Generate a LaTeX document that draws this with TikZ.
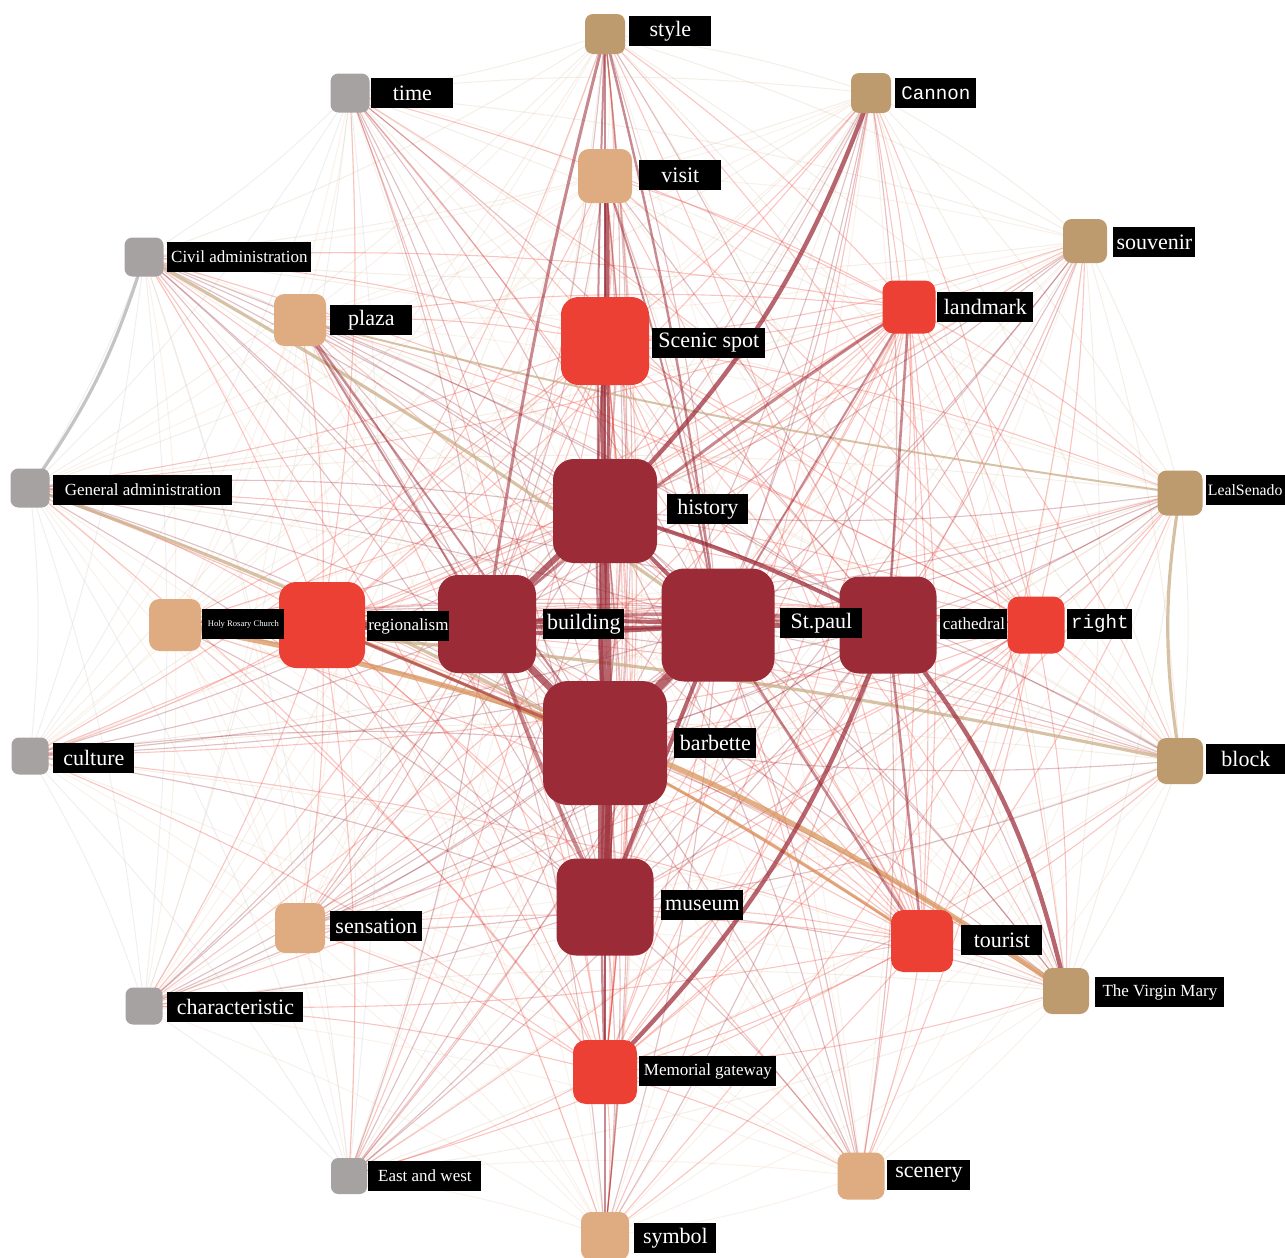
\documentclass[tikz,border=0pt]{standalone}
\usepackage{fontspec}
\setmainfont{Liberation Serif}
\newfontfamily\monof{Liberation Mono}
\definecolor{gry}{HTML}{A7A2A2}
\definecolor{tan}{HTML}{BE9B6E}
\definecolor{pch}{HTML}{DFAB80}
\definecolor{drk}{HTML}{9B2B37}
\definecolor{red}{HTML}{EC4034}
\colorlet{r0}{gry}
\colorlet{r1}{tan}
\colorlet{r2}{pch}
\colorlet{r3}{drk}
\colorlet{r4}{red}
\definecolor{tanline}{HTML}{C9AE88}
\definecolor{orgline}{HTML}{D9965E}
\definecolor{gryline}{HTML}{C4C4C4}
\pgfdeclarelayer{bg}
\pgfsetlayers{bg,main}
\begin{document}
\begin{tikzpicture}[x=0.5pt,y=-0.5pt,
  sq/.style 2 args={fill=#1, draw=none, inner sep=0pt, minimum size=#2*0.5pt, rounded corners=#2*0.1pt},
  lab/.style={fill=black, text=white, inner sep=0pt, anchor=west, minimum height=15pt},
  big/.style={font=\fontsize{11}{13}\selectfont},
  small/.style={font=\fontsize{8.5}{10}\selectfont},
  tiny/.style={font=\fontsize{4.3}{5}\selectfont},
  mono/.style={font=\monof\fontsize{9.6}{12}\selectfont},
  wl/.style={draw=drk, opacity=0.72, line width=#1},
  wm/.style={draw=drk, opacity=0.55, line width=#1},
  tl/.style={draw=tanline, opacity=0.75, line width=#1},
  ol/.style={draw=orgline, opacity=0.75, line width=#1},
]
\useasboundingbox (0,0) rectangle (1285,1258);
\clip (0,0) rectangle (1285,1258);
% nodes
\foreach \id/\x/\y/\c/\s in {
  sty/605/34/tan/40, tim/350/93/gry/39, can/871/93/tan/40, vis/605/176/pch/54,
  sou/1085/241/tan/44, civ/144/257/gry/39, pla/300/320/pch/52, lan/909/307/red/53,
  sce/605/341/red/88, gen/30/488/gry/39, lea/1180/493/tan/45, his/605/511/drk/104,
  hol/175/625/pch/52, reg/322/625/red/86, bui/487/624/drk/98, stp/718/625/drk/113,
  cat/888/625/drk/97, rig/1036/625/red/57, cul/30/756/gry/37, blo/1180/761/tan/46,
  bar/605/743/drk/124, mus/605/907/drk/97, sen/300/928/pch/50, tou/922/941/red/62,
  cha/144/1006/gry/37, vir/1066/991/tan/46, mem/605/1072/red/64, eas/349/1176/gry/36,
  scn/861/1176/pch/47, sym/605/1236/pch/48}
  {\node[sq={\c}{\s}] (\id) at (\x,\y) {};}
% labels
\foreach \id/\xa/\xb/\y/\f/\t in {
  sty/629/711/31/big/style, tim/371/453/93/big/time, can/895/976/93/mono/Cannon,
  vis/639/721/175/big/visit, sou/1113/1195/242/big/souvenir,
  civ/167/311/257/small/Civil administration, pla/330/412/320/big/plaza,
  lan/937/1033/307/big/landmark, sce/652/765/343/big/Scenic spot,
  gen/53/232/490/small/General administration, his/667/748/509/big/history,
  hol/202/284/624/tiny/Holy Rosary Church, reg/367/449/626/small/regionalism,
  bui/543/624/624/big/building, stp/780/862/623/big/St.paul,
  cat/940/1007/624/small/cathedral, rig/1067/1132/624/mono/right,
  cul/53/134/758/big/culture, blo/1206/1285/759/big/block,
  bar/674/756/743/big/barbette, mus/661/743/905/big/museum,
  sen/330/422/926/big/sensation, tou/961/1042/940/big/tourist,
  cha/167/303/1007/big/characteristic, vir/1095/1224/992/small/The Virgin Mary,
  mem/639/776/1071/small/Memorial gateway, eas/368/481/1176/small/East and west,
  scn/887/970/1175/big/scenery, sym/634/716/1238/big/symbol}
  {\pgfmathsetmacro\w{(\xb-\xa)*0.5}
   \node[lab,\f,minimum width=\w pt] (\id-l) at (\xa,\y) {\t};}
\node[lab,font=\fontsize{7.9}{10}\selectfont,minimum width=39.5pt,align=left,text width=38pt,inner xsep=0.75pt] (lea-l) at (1206,490) {LealSenado};
\def\nodelist{sty/1,tim/0,can/1,vis/2,sou/1,civ/0,pla/2,lan/4,sce/4,gen/0,lea/1,his/3,hol/2,reg/4,bui/3,stp/3,cat/3,rig/4,cul/0,blo/1,bar/3,mus/3,sen/2,tou/4,cha/0,vir/1,mem/4,eas/0,scn/2,sym/2}
\begin{pgfonlayer}{bg}
% thin edges
\foreach \a/\ra [count=\i] in \nodelist {
  \foreach \b/\rb [count=\j] in \nodelist {
    \ifnum\i<\j
      \ifnum\ra>\rb \edef\rc{\ra}\else\edef\rc{\rb}\fi
      \ifnum\rc>2
        \draw[draw=r\rc, opacity=0.3, line width=0.55pt] (\a.center) to[bend left=6] (\b.center);
      \else
        \draw[draw=r\rc!70!white, opacity=0.24, line width=0.5pt] (\a.center) to[bend left=6] (\b.center);
      \fi
    \fi
  }
}
% light coloured long edges
\draw[tl=1.6pt] (civ.center) to[bend left=3] (stp.center);
\draw[tl=1.6pt] (gen.center) to[bend left=4] (bar.center);
\draw[tl=1.6pt] (blo.center) to[bend right=4] (hol.center);
\draw[tl=1.6pt] (lea.center) to[bend right=9] (blo.center);
\draw[tl=1pt] (lea.center) to[bend left=3] (pla.center);
\draw[ol=2.6pt] (hol.center) to[bend left=12] (vir.center);
\draw[ol=1.5pt] (reg.center) to[bend left=6] (tou.center);
\draw[draw=gryline, line width=1.6pt] (civ.center) to[bend left=9] (gen.center);
% strong edges
\draw[wl=2pt] (vis.center) to[bend left=3] (sce.center);
\draw[wl=2pt] (sce.center) to[bend right=3] (his.center);
\draw[wl=1.5pt] (sce.center) to[bend left=4] (his.center);
\draw[wm=1.2pt] (sce.center) to[bend right=4] (bar.center);
\draw[wl=2.2pt] (can.center) to[bend left=12] (his.center);
\draw[wl=2.2pt] (mem.center) to[bend right=12] (cat.center);
\draw[wl=2.2pt] (cat.center) to[bend left=13] (vir.center);
\draw[wl=3pt] (his.center) -- (bui.center);
\draw[wl=3.5pt] (his.center) to[bend right=2] (bar.center);
\draw[wl=2.5pt] (his.center) to[bend left=2] (mus.center);
\draw[wl=2pt] (bui.center) to[bend left=3] (stp.center);
\draw[wl=2pt] (bui.center) to[bend right=3] (stp.center);
\draw[wl=3.5pt] (bui.center) -- (bar.center);
\draw[wl=4.5pt] (stp.center) -- (bar.center);
\draw[wl=7pt] (bar.center) -- (mus.center);
\draw[wm=2pt] (bui.center) to[bend right=3] (mus.center);
\draw[wl=2pt] (stp.center) -- (mus.center);
\draw[wl=2.5pt] (stp.center) -- (cat.center);
\draw[wm=1.5pt] (stp.center) to[bend left=5] (cat.center);
\draw[wl=2pt] (his.center) -- (stp.center);
\draw[wl=2pt] (his.center) to[bend left=5] (cat.center);
\draw[wl=3pt] (reg.center) -- (bui.center);
\draw[wl=2pt] (reg.center) to[bend right=4] (stp.center);
\draw[wm=1.5pt] (bui.center) to[bend left=5] (cat.center);
\draw[wm=1.5pt] (reg.center) -- (bar.center);
\draw[wm=1.3pt] (stp.center) -- (tou.center);
\draw[wm=1.3pt] (cat.center) -- (tou.center);
\draw[wm=1.5pt] (sty.center) to[bend right=3] (bui.center);
\draw[wm=1.2pt] (sty.center) to[bend left=3] (stp.center);
\draw[wm=1pt] (sty.center) -- (his.center);
\draw[wm=1pt] (sty.center) to[bend right=2] (bar.center);
\draw[wm=1.5pt] (lan.center) to[bend right=3] (bui.center);
\draw[wm=1.3pt] (lan.center) -- (cat.center);
\draw[wm=1pt] (lan.center) -- (stp.center);
\draw[wm=1pt] (pla.center) -- (bar.center);
\draw[wm=1pt] (pla.center) -- (bui.center);
\draw[wm=1pt] (mus.center) -- (sym.center);
\draw[wm=1.2pt] (mem.center) -- (mus.center);
\draw[wm=1.2pt] (mem.center) to[bend left=2] (bar.center);
\draw[wm=1pt] (vis.center) -- (his.center);
\draw[wm=1pt] (vis.center) to[bend left=4] (stp.center);
\end{pgfonlayer}
\end{tikzpicture}
\end{document}
